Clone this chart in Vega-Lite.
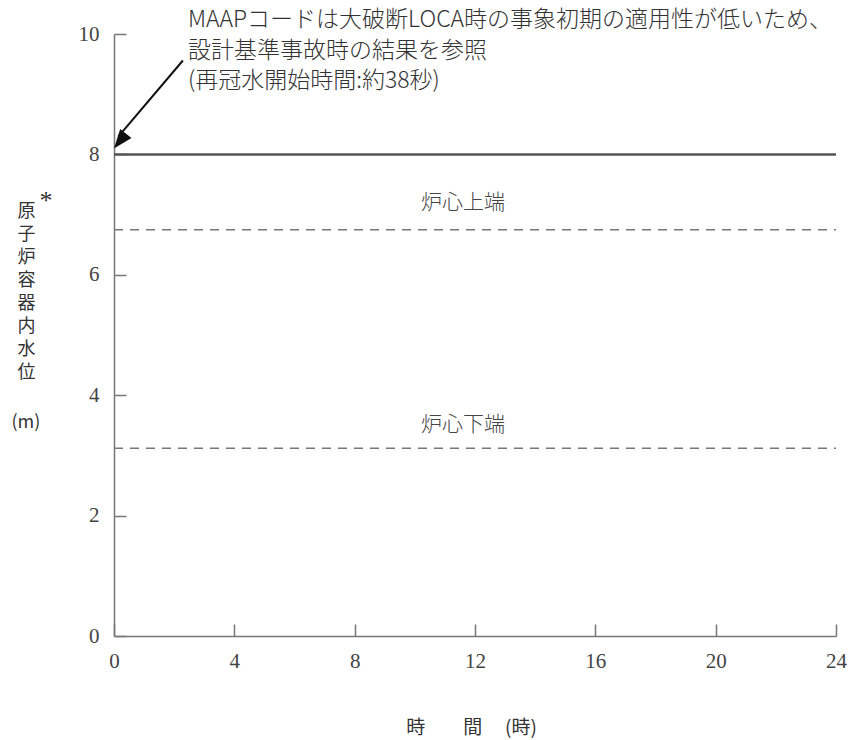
{
  "$schema": "https://vega.github.io/schema/vega-lite/v6.json",
  "width": 722,
  "height": 602,
  "autosize": "none",
  "padding": {"left": 114, "top": 34, "right": 15, "bottom": 104},
  "background": "white",
  "config": {
    "view": {"stroke": null},
    "axis": {
      "grid": false,
      "domainColor": "#777777",
      "domainWidth": 1.5,
      "tickColor": "#777777",
      "tickWidth": 1.5,
      "tickSize": -12,
      "labelFont": "Liberation Serif",
      "labelFontSize": 21,
      "labelColor": "#444444",
      "labelFlush": false,
      "format": "d",
      "titleFont": "Noto Sans CJK JP",
      "titleFontWeight": "normal",
      "titleColor": "#333333"
    }
  },
  "layer": [
    {
      "data": {"values": [{"x0": 0, "x1": 24, "y": 8}]},
      "mark": {"type": "rule", "color": "#555555", "strokeWidth": 2.5},
      "encoding": {
        "x": {
          "field": "x0", "type": "quantitative",
          "scale": {"domain": [0, 24], "nice": false},
          "axis": {
            "values": [0, 4, 8, 12, 16, 20, 24],
            "labelPadding": 26,
            "title": "時\u2003\u2003間\u2003\u2009(時)",
            "titleFontSize": 19,
            "titleX": 357,
            "titleY": 91,
            "titleBaseline": "middle"
          }
        },
        "x2": {"field": "x1"},
        "y": {
          "field": "y", "type": "quantitative",
          "scale": {"domain": [0, 10], "nice": false},
          "axis": {
            "values": [0, 2, 4, 6, 8, 10],
            "labelPadding": 27,
            "title": ["原", "子", "炉", "容", "器", "内", "水", "位"],
            "titleFontSize": 18,
            "titleAngle": 0,
            "titleAlign": "center",
            "titleBaseline": "top",
            "titleLineHeight": 23,
            "titleX": -88,
            "titleY": 168
          }
        }
      }
    },
    {
      "data": {"values": [
        {"x0": 0, "x1": 24, "y": 6.75},
        {"x0": 0, "x1": 24, "y": 3.12}
      ]},
      "mark": {"type": "rule", "color": "#777777", "strokeWidth": 1.5, "strokeDash": [9, 7]},
      "encoding": {
        "x": {"field": "x0", "type": "quantitative"},
        "x2": {"field": "x1"},
        "y": {"field": "y", "type": "quantitative"}
      }
    },
    {
      "data": {"values": [
        {"x": 11.6, "y": 7.2, "label": "炉心上端"},
        {"x": 11.6, "y": 3.5, "label": "炉心下端"}
      ]},
      "mark": {"type": "text", "font": "Noto Sans CJK JP", "fontSize": 21, "fontWeight": 300, "color": "#444444", "align": "center", "baseline": "middle"},
      "encoding": {
        "x": {"field": "x", "type": "quantitative"},
        "y": {"field": "y", "type": "quantitative"},
        "text": {"field": "label"}
      }
    },
    {
      "data": {"values": [
        {"x": 2.29, "y": 9.56},
        {"x": 0.15, "y": 8.3}
      ]},
      "mark": {"type": "line", "color": "#111111", "strokeWidth": 2},
      "encoding": {
        "x": {"field": "x", "type": "quantitative"},
        "y": {"field": "y", "type": "quantitative"}
      }
    },
    {
      "data": {"values": [{"x": 0, "y": 8.1}]},
      "mark": {"type": "point", "filled": true, "color": "#111111", "opacity": 1, "shape": "M0,0L-0.38,1L0.38,1Z", "size": 1444, "angle": 218.5},
      "encoding": {
        "x": {"field": "x", "type": "quantitative"},
        "y": {"field": "y", "type": "quantitative"}
      }
    },
    {
      "data": {"values": [
        {"x": 2.46, "y": 10.24, "line": "MAAPコードは大破断LOCA時の事象初期の適用性が低いため、"},
        {"x": 2.46, "y": 9.72, "line": "設計基準事故時の結果を参照"},
        {"x": 2.46, "y": 9.22, "line": "(再冠水開始時間:約38秒)"}
      ]},
      "mark": {"type": "text", "font": "Noto Sans CJK JP", "fontSize": 23, "fontWeight": 300, "color": "#333333", "align": "left", "baseline": "middle"},
      "encoding": {
        "x": {"field": "x", "type": "quantitative"},
        "y": {"field": "y", "type": "quantitative"},
        "text": {"field": "line"}
      }
    },
    {
      "data": {"values": [
        {"x": -2.26, "y": 7.22, "mark": "*", "size": "big"}
      ]},
      "mark": {"type": "text", "font": "Liberation Serif", "fontSize": 26, "color": "#333333", "align": "center", "baseline": "middle"},
      "encoding": {
        "x": {"field": "x", "type": "quantitative"},
        "y": {"field": "y", "type": "quantitative"},
        "text": {"field": "mark"}
      }
    },
    {
      "data": {"values": [
        {"x": -2.93, "y": 3.53, "unit": "(m)"}
      ]},
      "mark": {"type": "text", "font": "Noto Sans CJK JP", "fontSize": 18, "color": "#333333", "align": "center", "baseline": "middle"},
      "encoding": {
        "x": {"field": "x", "type": "quantitative"},
        "y": {"field": "y", "type": "quantitative"},
        "text": {"field": "unit"}
      }
    }
  ]
}
